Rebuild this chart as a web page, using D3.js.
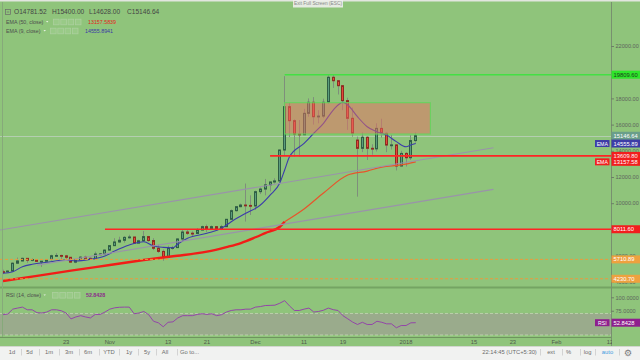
<!DOCTYPE html>
<html>
<head>
<meta charset="utf-8">
<script src="https://cdn.jsdelivr.net/npm/d3@7/dist/d3.min.js"></script>
<style>
  body { margin: 0; background: #8fc47b; }
  svg { display: block; font-family: 'Liberation Sans', Arial, sans-serif; }
</style>
</head>
<body>
<svg id="chart" width="640" height="360"></svg>
<script>
  // daily candles
  var dates = ['2017-10-10','2017-10-11','2017-10-12','2017-10-13','2017-10-14','2017-10-15','2017-10-16','2017-10-17','2017-10-18','2017-10-19',
    '2017-10-20','2017-10-21','2017-10-22','2017-10-23','2017-10-24','2017-10-25','2017-10-26','2017-10-27','2017-10-28','2017-10-29',
    '2017-10-30','2017-10-31','2017-11-01','2017-11-02','2017-11-03','2017-11-04','2017-11-05','2017-11-06','2017-11-07','2017-11-08',
    '2017-11-09','2017-11-10','2017-11-11','2017-11-12','2017-11-13','2017-11-14','2017-11-15','2017-11-16','2017-11-17','2017-11-18',
    '2017-11-19','2017-11-20','2017-11-21','2017-11-22','2017-11-23','2017-11-24','2017-11-25','2017-11-26','2017-11-27','2017-11-28',
    '2017-11-29','2017-11-30','2017-12-01','2017-12-02','2017-12-03','2017-12-04','2017-12-05','2017-12-06','2017-12-07','2017-12-08',
    '2017-12-09','2017-12-10','2017-12-11','2017-12-12','2017-12-13','2017-12-14','2017-12-15','2017-12-16','2017-12-17','2017-12-18',
    '2017-12-19','2017-12-20','2017-12-21','2017-12-22','2017-12-23','2017-12-24','2017-12-25','2017-12-26','2017-12-27','2017-12-28',
    '2017-12-29','2017-12-30','2017-12-31','2018-01-01','2018-01-02','2018-01-03'];
  var opens = [4770,4760,4820,5420,5590,5790,5650,5700,5560,5570,
    5700,5990,6010,5980,5870,5500,5680,5880,5790,5760,
    6120,6130,6420,6760,7040,7170,7390,7420,6950,7130,
    7450,7150,6560,6320,5870,6550,6610,7270,7800,7710,
    7690,7950,8210,8030,8210,8010,8210,8770,9430,9735,
    9860,9830,9790,10880,11080,11400,11620,11700,14060,17370,
    16300,15280,15230,16860,17700,16600,16650,17700,19610,19350,
    18970,17830,16480,14820,14190,15030,14190,14150,15710,15330,
    14440,14450,12840,13800,13470,14781.52];
  var highs = [4920,4880,5480,5850,5840,5800,5780,5740,5580,5720,
    6070,6190,6070,6050,5890,5720,5960,5990,5860,6300,
    6190,6470,6770,7330,7440,7490,7590,7420,7210,7880,
    7500,7330,6830,6470,6760,6740,7320,7970,8000,7850,
    8100,8290,8370,8300,8260,8350,8790,9520,9760,9970,
    11500,10600,10960,11200,11850,11650,11900,14100,19700,17650,
    16400,16350,17200,18000,18100,17100,17980,19780,19809.6,19400,
    19000,18050,17300,15080,15400,15100,14500,16100,16450,15400,
    15200,14500,14000,13900,15200,15400];
  var lows = [4590,4730,4800,5380,5560,5450,5560,5520,5130,5550,
    5620,5900,5690,5640,5470,5420,5670,5720,5700,5700,
    6030,6100,6370,6750,6960,6990,7300,6940,6950,7050,
    7050,6420,6200,5600,5830,6450,6590,7150,7580,7460,
    7650,7940,7800,8030,8000,7950,8180,8740,9360,9690,
    8600,9100,9480,10700,10600,10900,11500,11650,13600,15050,
    13550,13550,15200,16600,16000,16100,16500,17600,18800,18300,
    17100,15600,15080,10500,13900,13300,13700,13950,15000,13900,
    14100,12500,12800,12800,13300,14628];
  var closes = [4760,4820,5420,5590,5790,5650,5700,5560,5570,5700,
    5990,6010,5980,5870,5500,5680,5880,5790,5760,6120,
    6130,6420,6760,7040,7170,7390,7420,6950,7130,7450,
    7150,6560,6320,5870,6550,6610,7270,7800,7700,7690,
    7950,8210,8030,8210,8010,8210,8770,9430,9735,9860,
    9830,9790,10880,11080,11400,11620,11700,14060,17370,16300,
    15280,15230,16860,17700,16600,16650,17700,19610,19350,18970,
    17830,16480,15330,14190,15030,14190,14150,15710,15330,14440,
    14450,12840,13800,13470,14781.52,15146.64];
  var rsiValues = [67.7,69,78,80,81.8,76.8,76.8,71.4,70.8,72.6,
    76.8,76.8,75,70.8,59.9,63.5,65.9,63.5,61.7,68.2,
    68.2,72.6,78,80.5,81.5,81.8,81.8,69.5,70.8,73.7,
    67.7,55.5,52.6,45.3,53.6,54.4,61.7,65.9,65.9,65.9,
    68.2,69.5,68.2,69.5,65.9,67.7,72.6,75.5,76.8,76.8,
    78,78,81.8,82.8,84.7,85,85.4,89,93.8,84,
    75.5,75.5,78,80,72.6,73.7,76,80,77,75.5,
    65.9,60,54,49.5,53.6,49.5,49.5,55.5,53.6,50.7,
    50.7,43.4,47.6,47.6,52.6,52.8428];

  // moving averages, read at key points
  var ema50Dates = ['2017-10-10','2017-10-17','2017-10-24','2017-11-01','2017-11-08','2017-11-14','2017-11-21','2017-11-25',
    '2017-11-28','2017-12-01','2017-12-03','2017-12-06','2017-12-07','2017-12-11','2017-12-15','2017-12-20','2017-12-24',
    '2017-12-27','2017-12-31','2018-01-03'];
  var ema50Values = [4060,4450,4850,5280,5660,5950,6300,6650,6960,7400,7720,8200,8590,9560,10780,12150,12450,12760,12920,13157.58];
  var ema9Dates = ['2017-10-10','2017-10-12','2017-10-14','2017-10-16','2017-10-19','2017-10-23','2017-10-25','2017-10-28',
    '2017-10-31','2017-11-02','2017-11-05','2017-11-08','2017-11-10','2017-11-12','2017-11-14','2017-11-15','2017-11-17',
    '2017-11-21','2017-11-24','2017-11-26','2017-11-29','2017-12-02','2017-12-04','2017-12-06','2017-12-07','2017-12-08',
    '2017-12-11','2017-12-13','2017-12-15','2017-12-17','2017-12-19','2017-12-20','2017-12-22','2017-12-24','2017-12-26',
    '2017-12-28','2017-12-30','2018-01-01','2018-01-02','2018-01-03'];
  var ema9Values = [4650,4770,5150,5335,5490,5660,5590,5720,5970,6350,6810,7060,6730,6630,6600,6880,7320,
    7700,8080,8590,9230,9860,10620,11540,12530,13550,14570,15340,16100,17110,17700,17500,16600,15840,15460,
    15200,14700,14310,14440,14555.89];

  // drawings on the chart
  var levelPrices = [19809.60, 13609.80, 8011.60, 5710.89, 4230.70];
  var levelStarts = ['2017-12-07', '2017-12-04', '2017-10-31', null, null];
  var zoneDates = ['2017-12-07', '2018-01-06'];
  var zonePrices = [15280, 17670];
  var channelDates = [['2017-10-09', '2018-01-19'], ['2017-10-17', '2018-01-19']];
  var channelPrices = [[7930, 14229], [5266, 11053]];

  var priceTicks = [4000, 6000, 8000, 10000, 12000, 14000, 16000, 18000, 20000, 22000];
  var rsiTicks = [50, 75, 100];
  var timeTicks = ['2017-10-23','2017-11-01','2017-11-13','2017-11-21','2017-12-01','2017-12-11','2017-12-19',
    '2018-01-01','2018-01-15','2018-01-23','2018-02-01','2018-02-12'];
  var timeTickLabels = ['23','Nov','13','21','Dec','11','19','2018','15','23','Feb','12'];
  var rangeButtons = ['1d','5d','1m','3m','6m','YTD','1y','5y','All','Go to...'];

  var parse = d3.timeParse('%Y-%m-%d');
  var candles = dates.map((d, i) => ({ date: parse(d), o: opens[i], h: highs[i], l: lows[i], c: closes[i], rsi: rsiValues[i] }));
  var last = candles[candles.length - 1];
  var ema9Last = ema9Values[ema9Values.length - 1];
  var ema50Last = ema50Values[ema50Values.length - 1];

  var svg = d3.select('#chart');
  var plotR = 611, plotTop = 2, plotBottom = 287;

  var x = d3.scaleTime().domain([parse('2017-10-10'), parse('2018-02-12')]).range([3, 610]);
  var y = d3.scaleLinear().domain([4000, 22000]).range([281.8, 46]);
  var yr = d3.scaleLinear().domain([30, 100]).range([335, 297.3]);

  var defs = svg.append('defs');
  defs.append('clipPath').attr('id', 'main').append('rect')
    .attr('x', 0).attr('y', plotTop).attr('width', plotR).attr('height', plotBottom - plotTop);
  defs.append('clipPath').attr('id', 'rsiclip').append('rect')
    .attr('x', 0).attr('y', 289).attr('width', plotR).attr('height', 48);
  defs.append('clipPath').attr('id', 'timeclip').append('rect')
    .attr('x', 0).attr('y', 337).attr('width', plotR + 1).attr('height', 10);

  svg.append('rect').attr('width', 640).attr('height', 360).attr('fill', '#8fc47b');
  svg.append('rect').attr('width', 640).attr('height', 1.5).attr('fill', '#e2e6df');

  var main = svg.append('g').attr('clip-path', 'url(#main)');

  // last price line
  main.append('line')
    .attr('x1', 0).attr('x2', plotR)
    .attr('y1', Math.round(y(last.c)) + 0.5).attr('y2', Math.round(y(last.c)) + 0.5)
    .attr('stroke', '#b4ceb0').attr('stroke-width', 1);

  // candles
  var cg = main.append('g');
  candles.forEach(d => {
    var cx = Math.floor(x(d.date)) + 0.5;
    var up = d.c >= d.o;
    cg.append('line')
      .attr('x1', cx).attr('x2', cx).attr('y1', y(d.h)).attr('y2', y(d.l))
      .attr('stroke', '#7f8e7c').attr('stroke-width', 1);
    var top = y(Math.max(d.o, d.c)), bot = y(Math.min(d.o, d.c));
    cg.append('rect')
      .attr('x', cx - 1).attr('width', 2)
      .attr('y', top).attr('height', Math.max(bot - top, 0.8))
      .attr('fill', up ? '#5c9d7d' : '#e2493b')
      .attr('stroke', up ? '#2f5e45' : '#8f2b20').attr('stroke-width', 1);
  });

  // moving averages
  var line = d3.line().x(d => x(d[0])).y(d => y(d[1])).curve(d3.curveMonotoneX);
  var ema50 = ema50Dates.map((d, i) => [parse(d), ema50Values[i]]);
  var ema9 = ema9Dates.map((d, i) => [parse(d), ema9Values[i]]);
  var split = parse('2017-12-07');
  main.append('path').datum(ema50.filter(d => d[0] <= split))
    .attr('d', line).attr('fill', 'none').attr('stroke', '#f21d17').attr('stroke-width', 2.4);
  main.append('path').datum(ema50.filter(d => d[0] >= split))
    .attr('d', line).attr('fill', 'none').attr('stroke', '#e8542b').attr('stroke-width', 1.2);
  main.append('path').datum(ema9)
    .attr('d', line).attr('fill', 'none').attr('stroke', '#3b3bab').attr('stroke-width', 1.1);

  // channel lines
  channelDates.forEach((pair, i) => {
    main.append('line')
      .attr('x1', x(parse(pair[0]))).attr('y1', y(channelPrices[i][0]))
      .attr('x2', x(parse(pair[1]))).attr('y2', y(channelPrices[i][1]))
      .attr('stroke', '#9a93aa').attr('stroke-width', 1.1);
  });

  // horizontal levels
  var levelColors = ['#44e044', '#ff2424', '#ff2424', '#eb9b3c', '#eb9b3c'];
  levelPrices.forEach((p, i) => {
    var yy = y(p);
    var l = main.append('line')
      .attr('x1', levelStarts[i] ? x(parse(levelStarts[i])) : 0).attr('x2', plotR)
      .attr('y1', yy).attr('y2', yy)
      .attr('stroke', levelColors[i]).attr('stroke-width', i < 3 ? 1.6 : 1);
    if (i >= 3) l.attr('stroke-dasharray', '3,2');
  });

  // price zone
  main.append('rect')
    .attr('x', x(parse(zoneDates[0]))).attr('width', x(parse(zoneDates[1])) - x(parse(zoneDates[0])))
    .attr('y', y(zonePrices[1])).attr('height', y(zonePrices[0]) - y(zonePrices[1]))
    .attr('fill', 'rgba(236,110,100,0.5)').attr('stroke', '#62d65c').attr('stroke-width', 1);

  // RSI panel
  var rsiG = svg.append('g').attr('clip-path', 'url(#rsiclip)');
  rsiG.append('rect').attr('x', 0).attr('width', plotR)
    .attr('y', yr(70)).attr('height', yr(30) - yr(70)).attr('fill', '#9aab8c');
  [70, 30].forEach(v => {
    rsiG.append('line').attr('x1', 0).attr('x2', plotR).attr('y1', yr(v)).attr('y2', yr(v))
      .attr('stroke', '#c4d6b8').attr('stroke-dasharray', '3,2').attr('stroke-width', 0.8);
  });
  rsiG.append('path').datum(candles)
    .attr('d', d3.line().x(d => x(d.date)).y(d => yr(d.rsi)))
    .attr('fill', 'none').attr('stroke', '#9346a8').attr('stroke-width', 1);

  // panel borders
  svg.append('rect').attr('x', 0).attr('y', 286.5).attr('width', 640).attr('height', 2).attr('fill', '#74a463');
  svg.append('line').attr('x1', 0).attr('x2', plotR).attr('y1', 337.5).attr('y2', 337.5).attr('stroke', '#6f955f');
  svg.append('line').attr('x1', 2.5).attr('x2', 2.5).attr('y1', 2).attr('y2', 337).attr('stroke', '#86a97a');
  svg.append('line').attr('x1', plotR + 0.5).attr('x2', plotR + 0.5).attr('y1', 2).attr('y2', 346).attr('stroke', '#78906f');

  // price axis; ticks that sit right under a price tag are hidden by it, so skip them
  var tagPrices = [levelPrices[0], last.c, ema9Last, levelPrices[1], ema50Last, levelPrices[2], levelPrices[3], levelPrices[4]];
  var visiblePriceTicks = priceTicks.filter(t => tagPrices.every(p => Math.abs(y(p) - y(t)) >= 3));
  var visibleRsiTicks = rsiTicks.filter(t => Math.abs(yr(t) - yr(last.rsi)) >= 3);

  var axisStyle = g => {
    g.select('.domain').remove();
    g.selectAll('.tick line').attr('stroke', '#6d7f67');
    g.selectAll('.tick text').attr('fill', '#5e665b').attr('font-size', 5.6).attr('font-family', 'Liberation Sans, Arial, sans-serif');
  };
  svg.append('g').attr('transform', `translate(${plotR},0)`)
    .call(d3.axisRight(y).tickValues(visiblePriceTicks).tickFormat(d3.format('.2f')).tickSize(3).tickPadding(1.5))
    .call(axisStyle);
  svg.append('g').attr('transform', `translate(${plotR},0)`)
    .call(d3.axisRight(yr).tickValues(visibleRsiTicks).tickFormat(d3.format('.4f')).tickSize(3).tickPadding(1.5))
    .call(axisStyle);

  // axis labels
  function priceTag(yy, txt, bg, fg, tag) {
    var g = svg.append('g');
    g.append('rect').attr('x', plotR + 0.5).attr('y', yy - 4).attr('width', 29).attr('height', 8).attr('fill', bg);
    g.append('text').attr('x', plotR + 2.5).attr('y', yy + 2).attr('font-size', 5.8)
      .attr('fill', fg).text(txt);
    if (tag) {
      g.append('rect').attr('x', plotR - 16).attr('y', yy - 3.5).attr('width', 14.5).attr('height', 7).attr('fill', bg);
      g.append('text').attr('x', plotR - 8.75).attr('y', yy + 2).attr('font-size', 5.2)
        .attr('text-anchor', 'middle').attr('fill', fg).text(tag);
    }
  }
  var fmt2 = d3.format('.2f');
  priceTag(y(levelPrices[0]), fmt2(levelPrices[0]), '#2ee62a', '#1d3a1d');
  priceTag(y(last.c), fmt2(last.c), '#6a9e8a', '#ffffff');
  priceTag(y(ema9Last), fmt2(ema9Last), '#3d3da6', '#ffffff', 'EMA');
  priceTag(y(levelPrices[1]), fmt2(levelPrices[1]), '#f21e1e', '#ffffff');
  priceTag(y(ema50Last), fmt2(ema50Last), '#f21e1e', '#ffffff', 'EMA');
  priceTag(y(levelPrices[2]), fmt2(levelPrices[2]), '#f21e1e', '#ffffff');
  priceTag(y(levelPrices[3]), fmt2(levelPrices[3]), '#eea13f', '#ffffff');
  priceTag(y(levelPrices[4]), fmt2(levelPrices[4]), '#eea13f', '#ffffff');
  priceTag(yr(last.rsi), d3.format('.4f')(last.rsi), '#8e1f8e', '#ffffff', 'RSI');

  // time axis
  var tg = svg.append('g').attr('clip-path', 'url(#timeclip)');
  timeTicks.forEach((t, i) => {
    tg.append('text').attr('x', x(parse(t))).attr('y', 344.2).attr('text-anchor', 'middle')
      .attr('font-size', 5.8).attr('fill', '#4f5a4c').text(timeTickLabels[i]);
  });

  // legends
  var lg = svg.append('g').attr('fill', '#454545');
  lg.append('rect').attr('x', 5.5).attr('y', 9.5).attr('width', 5).attr('height', 5).attr('fill', 'none').attr('stroke', '#6a6a6a').attr('stroke-width', 0.7);
  lg.append('line').attr('x1', 6.8).attr('x2', 9.2).attr('y1', 12).attr('y2', 12).attr('stroke', '#6a6a6a').attr('stroke-width', 0.7);
  var ohlc = [['O', last.o, 14], ['H', last.h, 52], ['L', last.l, 89], ['C', last.c, 127]];
  ohlc.forEach(d => {
    lg.append('text').attr('x', d[2]).attr('y', 14.3).attr('font-size', 6.6).text(d[0] + fmt2(d[1]));
  });

  function studyLegend(yy, name, arrowX, boxX, valX, val, color, bold) {
    lg.append('text').attr('x', 6).attr('y', yy + 2).attr('font-size', 5.3).attr('fill', '#4e4e4e').text(name);
    lg.append('path').attr('d', `M${arrowX},${yy - 0.6}l2.4,0l-1.2,1.4z`).attr('fill', '#e9f1e5');
    for (var k = 0; k < 4; k++) {
      lg.append('rect').attr('x', boxX + k * 7.3 + 0.5).attr('y', yy - 2.5).attr('width', 5.6).attr('height', 5.6)
        .attr('fill', '#99ca87').attr('stroke', '#acd09e').attr('stroke-width', 0.8);
    }
    lg.append('text').attr('x', valX).attr('y', yy + 2).attr('font-size', 5.3).attr('fill', color)
      .attr('font-weight', bold ? 'bold' : 'normal').text(val);
  }
  studyLegend(21.7, 'EMA (50, close)', 46, 53, 88, d3.format('.4f')(13157.5839), '#e0261c');
  studyLegend(30.7, 'EMA (9, close)', 43.5, 50, 85, d3.format('.4f')(14555.8941), '#3a3aa6');
  studyLegend(295, 'RSI (14, close)', 43.5, 52, 86, d3.format('.4f')(last.rsi), '#8c2b8c', true);

  // toolbar
  svg.append('rect').attr('x', 0).attr('y', 346.5).attr('width', 640).attr('height', 14).attr('fill', '#f1f2f1');
  svg.append('line').attr('x1', 0).attr('x2', 640).attr('y1', 346.5).attr('y2', 346.5).attr('stroke', '#d2d6d0');
  var tb = svg.append('g').attr('font-size', 5.8).attr('fill', '#6c6c6c');
  var leftCenters = [12, 29.5, 49, 69, 88, 109, 129, 147, 165, 189.5];
  rangeButtons.forEach((b, i) => {
    tb.append('text').attr('x', leftCenters[i]).attr('y', 354.2).attr('text-anchor', 'middle').text(b);
    if (i < rangeButtons.length - 1) {
      var sx = Math.round((leftCenters[i] + leftCenters[i + 1]) / 2) + 0.5;
      tb.append('line').attr('x1', sx).attr('x2', sx).attr('y1', 349).attr('y2', 355.5).attr('stroke', '#d3d3d3');
    }
  });
  var rightItems = [['22:14:45 (UTC+5:30)', 509.5], ['ext', 551], ['%', 568.5], ['log', 587.5], ['auto', 607.5]];
  rightItems.forEach(d => {
    tb.append('text').attr('x', d[1]).attr('y', 354.2).attr('text-anchor', 'middle')
      .attr('fill', d[0] === 'auto' ? '#3f9be0' : '#6c6c6c').text(d[0]);
  });
  [540.5, 562.5, 580.5, 595.5, 619.5].forEach(sx => {
    tb.append('line').attr('x1', sx).attr('x2', sx).attr('y1', 349).attr('y2', 355.5).attr('stroke', '#d3d3d3');
  });
  tb.append('text').attr('x', 628).attr('y', 356).attr('text-anchor', 'middle').attr('font-size', 9)
    .attr('font-family', 'DejaVu Sans').attr('fill', '#7a7a7a').text('\u2699');

  // full screen hint
  svg.append('rect').attr('x', 293).attr('y', 0).attr('width', 50).attr('height', 7.5).attr('fill', '#eef0ec').attr('opacity', 0.9);
  svg.append('text').attr('x', 318).attr('y', 5.4).attr('text-anchor', 'middle').attr('font-size', 4.8)
    .attr('fill', '#8a8a8a').text('Exit Full Screen (ESC)');
</script>
</body>
</html>
